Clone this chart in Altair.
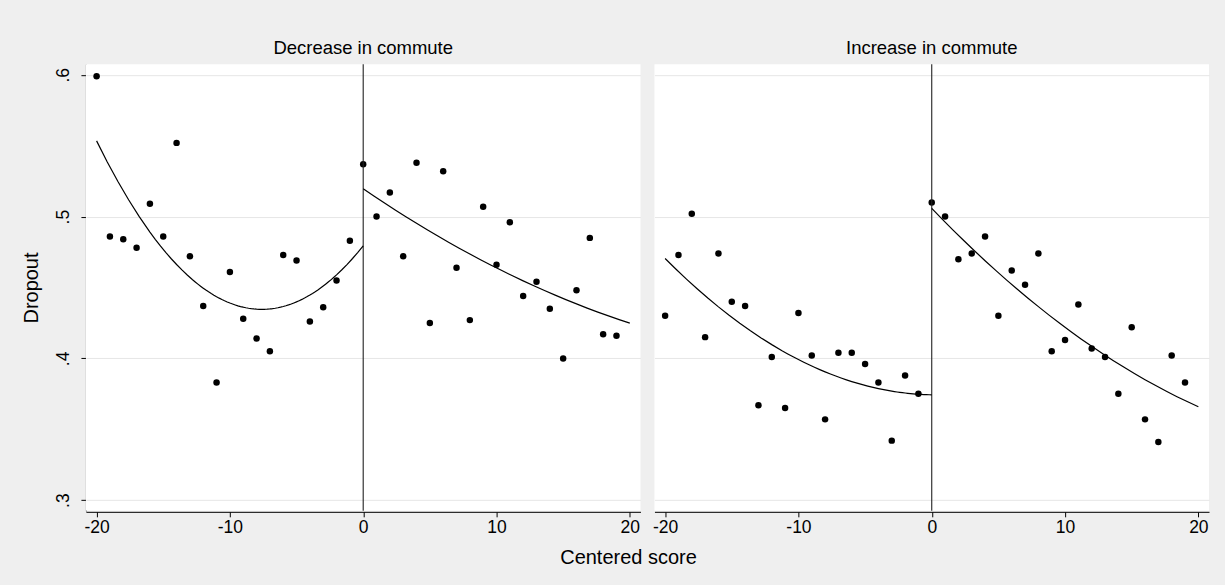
import altair as alt
import pandas as pd

# Centered score bins shown in each panel
score = list(range(-20, 20))

panels = ["Decrease in commute", "Increase in commute"]

# Mean dropout per score bin, decrease-in-commute group
decrease_dropout = [
    0.599, 0.486, 0.484, 0.478, 0.509, 0.486, 0.552, 0.472, 0.437, 0.383,
    0.461, 0.428, 0.414, 0.405, 0.473, 0.469, 0.426, 0.436, 0.455, 0.483,
    0.537, 0.500, 0.517, 0.472, 0.538, 0.425, 0.532, 0.464, 0.427, 0.507,
    0.466, 0.496, 0.444, 0.454, 0.435, 0.400, 0.448, 0.485, 0.417, 0.416,
]

# Mean dropout per score bin, increase-in-commute group
increase_dropout = [
    0.430, 0.473, 0.502, 0.415, 0.474, 0.440, 0.437, 0.367, 0.401, 0.365,
    0.432, 0.402, 0.357, 0.404, 0.404, 0.396, 0.383, 0.342, 0.388, 0.375,
    0.510, 0.500, 0.470, 0.474, 0.486, 0.430, 0.462, 0.452, 0.474, 0.405,
    0.413, 0.438, 0.407, 0.401, 0.375, 0.422, 0.357, 0.341, 0.402, 0.383,
]

x_ticks = [-20, -10, 0, 10, 20]
y_ticks = [0.3, 0.4, 0.5, 0.6]

rows = []
for panel, values in zip(panels, [decrease_dropout, increase_dropout]):
    for s, v in zip(score, values):
        rows.append({"panel": panel, "score": s, "dropout": v,
                     "side": "below" if s < 0 else "above"})
df = pd.DataFrame(rows)

FONT = "Liberation Sans"

x_enc = alt.X(
    "score:Q",
    scale=alt.Scale(domain=[-20.8, 20.8], nice=False, zero=False),
    axis=alt.Axis(
        values=x_ticks,
        title=None,
        grid=False,
        # plain hyphen for negative numbers
        labelExpr="datum.value < 0 ? '-' + abs(datum.value) : '' + datum.value",
    ),
)
y_enc = alt.Y(
    "dropout:Q",
    scale=alt.Scale(domain=[0.2925, 0.6075], nice=False, zero=False),
    axis=alt.Axis(
        values=y_ticks,
        title="Dropout",
        labelExpr="substring(format(datum.value, '.1f'), 1)",
        labelAngle=270,
        labelAlign="center",
        labelBaseline="bottom",
        grid=True,
    ),
)

points = alt.Chart().mark_circle(size=42, color="black", opacity=1).encode(
    x=x_enc, y=y_enc
)

cutoff = alt.Chart().transform_filter(alt.datum.score == 0).mark_rule(
    color="#222222", strokeWidth=1.1
).encode(x=alt.X("score:Q"))

fit_below = (
    alt.Chart()
    .transform_filter(alt.datum.side == "below")
    .transform_regression("score", "dropout", method="poly", order=2,
                          extent=[-20, 0], groupby=["panel"])
    .mark_line(color="black", strokeWidth=1.2)
    .encode(x="score:Q", y="dropout:Q")
)

fit_above = (
    alt.Chart()
    .transform_filter(alt.datum.side == "above")
    .transform_regression("score", "dropout", method="poly", order=2,
                          extent=[0, 20], groupby=["panel"])
    .mark_line(color="black", strokeWidth=1.2)
    .encode(x="score:Q", y="dropout:Q")
)

chart = (
    alt.layer(points, cutoff, fit_below, fit_above, data=df)
    .properties(width=555, height=447)
    .facet(
        column=alt.Column(
            "panel:N",
            sort=panels,
            header=alt.Header(
                title=None,
                labelFont=FONT,
                labelFontSize=18.5,
                labelColor="black",
                labelPadding=6,
            ),
        ),
        spacing=14,
    )
    .properties(
        background="#efefef",
        padding={"left": 22, "top": 38, "right": 16, "bottom": 17},
        title=alt.TitleParams(
            "Centered score",
            orient="bottom",
            anchor="middle",
            font=FONT,
            fontSize=20,
            fontWeight="normal",
            color="black",
            offset=12,
            dx=13,
        ),
    )
    .configure_view(fill="white", strokeWidth=0)
    .configure_axis(
        labelFont=FONT,
        labelFontSize=17.5,
        labelColor="black",
        titleFont=FONT,
        titleFontSize=20,
        titleFontWeight="normal",
        titleColor="black",
        domainColor="black",
        tickColor="black",
        tickSize=5,
        gridColor="#e6e6e6",
        gridWidth=1,
    )
    .configure_axisX(labelPadding=2)
    .configure_axisY(labelPadding=8, titlePadding=13)
)

chart.save("out.html", embed_options={"renderer": "svg", "actions": False})
